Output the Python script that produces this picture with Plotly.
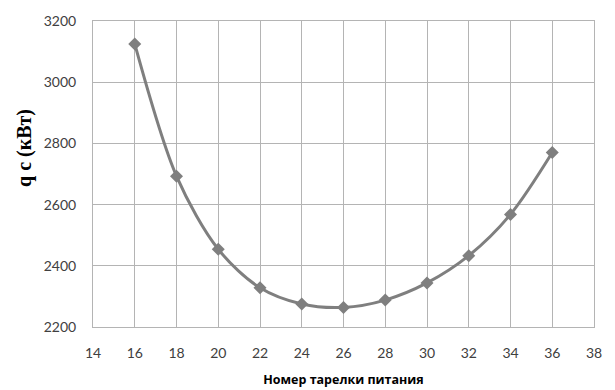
import plotly.graph_objects as go

# Feed tray number vs. condenser duty
tray = [16, 18, 20, 22, 24, 26, 28, 30, 32, 34, 36]
q_c = [3125, 2693, 2454, 2328, 2275, 2264, 2288, 2344, 2433, 2568, 2770]

x_ticks = list(range(14, 40, 2))
y_ticks = list(range(2200, 3400, 200))

grid = "#b4b4b4"
ink = "#7f7f7f"

fig = go.Figure(
    go.Scatter(
        x=tray,
        y=q_c,
        mode="lines+markers",
        line=dict(color=ink, width=3, shape="spline", smoothing=0.9),
        marker=dict(symbol="diamond", size=10, color=ink),
        showlegend=False,
    )
)

fig.update_layout(
    width=615,
    height=390,
    margin=dict(l=93, r=21, t=21, b=63),
    paper_bgcolor="white",
    plot_bgcolor="white",
    font=dict(family="Lato", size=14, color="#404040"),
    annotations=[
        dict(
            text="<b>q c (кВт)</b>",
            xref="paper",
            yref="paper",
            x=0,
            y=0.585,
            xshift=-68,
            textangle=-90,
            showarrow=False,
            xanchor="center",
            yanchor="middle",
            font=dict(family="Liberation Serif", size=20, color="#000000"),
        )
    ],
)

fig.update_xaxes(
    range=[14, 38],
    tickvals=x_ticks,
    showgrid=True,
    gridcolor=grid,
    gridwidth=1,
    showline=True,
    linecolor=grid,
    linewidth=1,
    mirror=True,
    zeroline=False,
    ticks="",
    ticklabelstandoff=13,
    automargin=False,
    title=dict(
        text="<b>Номер тарелки питания</b>",
        font=dict(family="Open Sans", size=12.5, color="#000000"),
    ),
)

fig.update_yaxes(
    range=[2200, 3200],
    tickvals=y_ticks,
    showgrid=True,
    gridcolor=grid,
    gridwidth=1,
    showline=True,
    linecolor=grid,
    linewidth=1,
    mirror=True,
    zeroline=False,
    ticks="",
    ticklabelstandoff=13,
    automargin=False,
)

fig.write_html("out.html")
